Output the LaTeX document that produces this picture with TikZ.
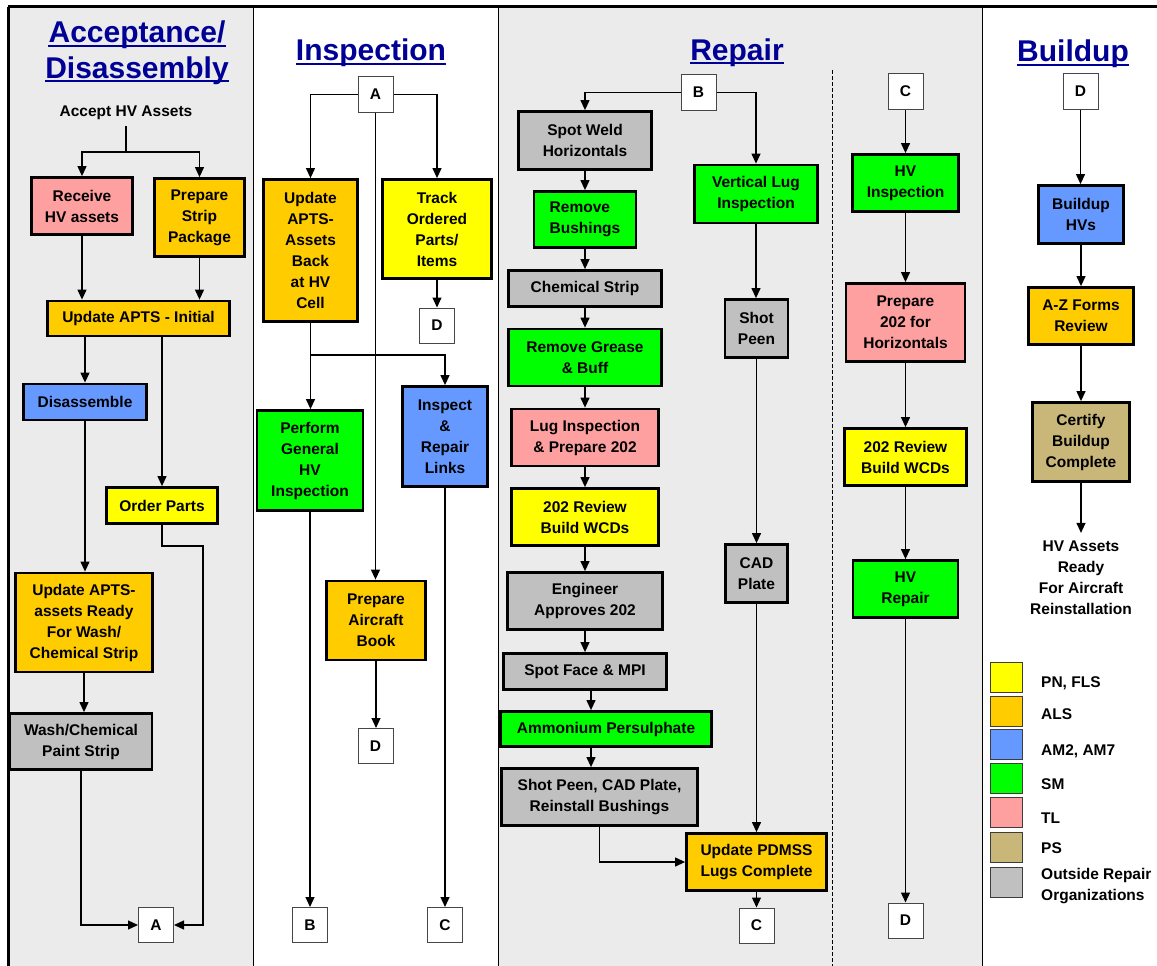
\documentclass[tikz,border=0pt]{standalone}
\usepackage{fontspec}
\setmainfont{Liberation Sans}
\usetikzlibrary{arrows.meta}
\definecolor{bgGrey}{RGB}{235,235,235}
\definecolor{cPink}{RGB}{255,160,160}
\definecolor{cOrange}{RGB}{255,204,0}
\definecolor{cYellow}{RGB}{255,255,0}
\definecolor{cBlue}{RGB}{102,153,255}
\definecolor{cGreen}{RGB}{0,255,0}
\definecolor{cTan}{RGB}{201,183,122}
\definecolor{cGrey}{RGB}{192,192,192}
\definecolor{titleBlue}{RGB}{0,0,150}
\definecolor{letterEdge}{RGB}{70,70,70}
\definecolor{legEdge}{RGB}{60,60,60}
\newcommand{\bodyfont}{\fontsize{15.5}{21}\selectfont\bfseries}
\newcommand{\titlefont}{\fontsize{30}{36}\selectfont\bfseries}
\begin{document}
\begin{tikzpicture}[x=1pt,y=-1pt,
  proc/.style={draw=black, line width=2.8pt, inner sep=0pt, align=center, font=\bodyfont, text=black},
  lbox/.style={draw=letterEdge, line width=1pt, fill=white, minimum width=35pt, minimum height=35pt, inner sep=0pt, font=\bodyfont},
  arr/.style={line width=1.2pt, -{Triangle[length=10pt,width=9pt]}},
  ln/.style={line width=1.2pt},
  ttl/.style={font=\titlefont, text=titleBlue, inner sep=0pt, anchor=base},
  ul/.style={line width=2.3pt, draw=titleBlue},
  plain/.style={font=\bodyfont, align=center, inner sep=0pt},
  leg/.style={draw=legEdge, line width=1.2pt, minimum width=32pt, minimum height=30pt, inner sep=0pt},
  legt/.style={font=\bodyfont, anchor=west, align=left, inner sep=0pt}
]
\useasboundingbox (0,0) rectangle (1157,966);
% backgrounds
\fill[white] (0,0) rectangle (1157,966);
\fill[bgGrey] (8,7) rectangle (253,966);
\fill[bgGrey] (498,7) rectangle (982,966);
\draw[line width=1pt] (253,7) -- (253,966);
\draw[line width=1pt] (498,7) -- (498,966);
\draw[line width=1pt] (982,7) -- (982,966);
\draw[line width=0.8pt, dash pattern=on 4pt off 2pt] (832,70) -- (832,966);
\draw[line width=3pt] (8,7) -- (1157,7);
\draw[line width=3pt] (8,7) -- (8,966);

% titles
\node[ttl] (t1a) at (137,43) {Acceptance/};
\node[ttl] (t1b) at (137,78) {Disassembly};
\node[ttl] (t2) at (371,61) {Inspection};
\node[ttl] (t3) at (737,60) {Repair};
\node[ttl] (t4) at (1073,62) {Buildup};
\foreach \t in {t1a,t1b,t2,t3,t4}
  \draw[ul] ([yshift=-3pt]\t.base west) -- ([yshift=-3pt]\t.base east);

% column 1
\node[plain] (acc) at (126,113) {Accept HV Assets};
\node[proc, fill=cPink, minimum width=101pt, minimum height=57pt] (rcv) at (82,206) {Receive\\HV assets};
\node[proc, fill=cOrange, minimum width=90pt, minimum height=78pt] (psp) at (199.5,217.5) {Prepare\\Strip\\Package};
\node[proc, fill=cOrange, minimum width=182pt, minimum height=35pt] (upi) at (138.5,318.5) {Update APTS - Initial};
\node[proc, fill=cBlue, minimum width=123pt, minimum height=36pt] (dis) at (85,402) {Disassemble};
\node[proc, fill=cYellow, minimum width=111pt, minimum height=36pt] (ord) at (162,505.5) {Order Parts};
\node[proc, fill=cOrange, minimum width=137pt, minimum height=99pt] (upw) at (84,622.5) {Update APTS-\\assets Ready\\For Wash/\\Chemical Strip};
\node[proc, fill=cGrey, minimum width=142pt, minimum height=56pt] (wsh) at (81,741.5) {Wash/Chemical\\Paint Strip};
\node[lbox] (A1) at (156,925) {A};

% column 2
\node[lbox] (A2) at (375.5,94.5) {A};
\node[proc, fill=cOrange, minimum width=94pt, minimum height=142pt] (uab) at (310.5,250.5) {Update\\APTS-\\Assets\\Back\\at HV\\Cell};
\node[proc, fill=cYellow, minimum width=109pt, minimum height=99pt] (trk) at (437,229) {Track\\Ordered\\Parts/\\Items};
\node[lbox] (D2a) at (437,325.5) {D};
\node[proc, fill=cGreen, minimum width=106pt, minimum height=100pt] (pgh) at (310,460.5) {Perform\\General\\HV\\Inspection};
\node[proc, fill=cBlue, minimum width=85pt, minimum height=100pt] (irl) at (445,436.5) {Inspect\\\&\\Repair\\Links};
\node[proc, fill=cOrange, minimum width=99pt, minimum height=79pt] (pab) at (376,620.5) {Prepare\\Aircraft\\Book};
\node[lbox] (D2b) at (375.5,746) {D};
\node[lbox] (B2) at (310,925) {B};
\node[lbox] (C2) at (445,925) {C};

% column 3
\node[lbox] (B3) at (698.5,92.5) {B};
\node[proc, fill=cGrey, minimum width=133pt, minimum height=58pt] (swh) at (585,140.5) {Spot Weld\\Horizontals};
\node[proc, fill=cGreen, minimum width=102pt, minimum height=56pt, align=left] (rmb) at (585,219.5) {Remove\\Bushings};
\node[proc, fill=cGrey, minimum width=153pt, minimum height=36pt] (chs) at (585,288.5) {Chemical Strip};
\node[proc, fill=cGreen, minimum width=153pt, minimum height=57pt] (rgb) at (585,357.5) {Remove Grease\\\& Buff};
\node[proc, fill=cPink, minimum width=147pt, minimum height=57pt] (lip) at (585,437.5) {Lug Inspection\\\& Prepare 202};
\node[proc, fill=cYellow, minimum width=147pt, minimum height=57pt] (rv1) at (585,517) {202 Review\\Build WCDs};
\node[proc, fill=cGrey, minimum width=155pt, minimum height=57pt] (eng) at (585,601) {Engineer\\Approves 202};
\node[proc, fill=cGrey, minimum width=163pt, minimum height=36pt] (sfm) at (585,671.5) {Spot Face \& MPI};
\node[proc, fill=cGreen, minimum width=211pt, minimum height=35pt] (amm) at (606,729) {Ammonium Persulphate};
\node[proc, fill=cGrey, minimum width=196pt, minimum height=57pt] (spc) at (599.5,797) {Shot Peen, CAD Plate,\\Reinstall Bushings};
\node[proc, fill=cGreen, minimum width=123pt, minimum height=58pt] (vli) at (756,194) {Vertical Lug\\Inspection};
\node[proc, fill=cGrey, minimum width=63pt, minimum height=58pt] (shp) at (756.5,328.5) {Shot\\Peen};
\node[proc, fill=cGrey, minimum width=62pt, minimum height=58pt] (cad) at (756.5,573.5) {CAD\\Plate};
\node[proc, fill=cOrange, minimum width=140pt, minimum height=57pt] (upd) at (756.5,862) {Update PDMSS\\Lugs Complete};
\node[lbox] (C3) at (756.5,925.5) {C};

% sub-column C
\node[lbox] (C4) at (905.5,91.5) {C};
\node[proc, fill=cGreen, minimum width=106pt, minimum height=57pt] (hvi) at (905.5,183) {HV\\Inspection};
\node[proc, fill=cPink, minimum width=119pt, minimum height=78pt] (p2h) at (905.5,322.5) {Prepare\\202 for\\Horizontals};
\node[proc, fill=cYellow, minimum width=122pt, minimum height=57pt] (rv2) at (905.5,457) {202 Review\\Build WCDs};
\node[proc, fill=cGreen, minimum width=105pt, minimum height=57pt] (hvr) at (905.5,589) {HV\\Repair};
\node[lbox] (D4) at (905.5,920.5) {D};

% column 4
\node[lbox] (D5) at (1080.5,91.5) {D};
\node[proc, fill=cBlue, minimum width=85pt, minimum height=58pt] (bhv) at (1081,214.5) {Buildup\\HVs};
\node[proc, fill=cOrange, minimum width=105pt, minimum height=57pt] (azf) at (1081,316) {A-Z Forms\\Review};
\node[proc, fill=cTan, minimum width=97pt, minimum height=79pt] (cbc) at (1081,442) {Certify\\Buildup\\Complete};
\node[plain, inner ysep=8pt] (rdy) at (1081,578) {HV Assets\\Ready\\For Aircraft\\Reinstallation};

% legend
\node[leg, fill=cYellow] (lg1) at (1006.5,677.5) {};
\node[leg, fill=cOrange] (lg2) at (1006.5,711.5) {};
\node[leg, fill=cBlue] (lg3) at (1006.5,744.5) {};
\node[leg, fill=cGreen] (lg4) at (1006.5,778.5) {};
\node[leg, fill=cPink] (lg5) at (1006.5,812.5) {};
\node[leg, fill=cTan] (lg6) at (1006.5,847.5) {};
\node[leg, fill=cGrey] (lg7) at (1006.5,882.5) {};
\node[legt] (lt1) at (1041,683) {PN, FLS};
\node[legt] (lt2) at (1041,714) {ALS};
\node[legt] (lt3) at (1041,751) {AM2, AM7};
\node[legt] (lt4) at (1041,784) {SM};
\node[legt] (lt5) at (1041,818) {TL};
\node[legt] (lt6) at (1041,848) {PS};
\node[legt] (lt7) at (1041,886) {Outside Repair\\Organizations};

% connectors column 1
\coordinate (j1) at (126,152);
\draw[ln] (acc.south) ++(0,6) -- (j1);
\draw[arr] (j1) -| (rcv.north);
\draw[arr] (j1) -| (psp.north);
\draw[arr] (rcv.south) -- (rcv.south |- upi.north);
\draw[arr] (psp.south) -- (psp.south |- upi.north);
\draw[arr] (upi.south -| dis.north) -- (dis.north);
\draw[arr] (upi.south -| ord.north) -- (ord.north);
\draw[arr] (dis.south) -- (dis.south |- upw.north);
\draw[arr] (upw.south) -- (upw.south |- wsh.north);
\draw[arr] (wsh.south) |- (A1.west);
\coordinate (k1) at (203,546);
\draw[arr] (ord.south) |- (k1) |- (A1.east);

% connectors column 2
\draw[arr] (A2.west) -| (uab.north);
\draw[arr] (A2.east) -| (trk.north);
\draw[arr] (A2.south) -- (A2.south |- pab.north);
\draw[arr] (trk.south) -- (D2a.north);
\coordinate (j2) at (310.5,355);
\draw[ln] (uab.south) -- (j2);
\draw[arr] (j2) -- (j2 |- pgh.north);
\draw[arr] (j2) -| (irl.north);
\draw[arr] (pgh.south) -- (B2.north);
\draw[arr] (irl.south) -- (C2.north);
\draw[arr] (pab.south) -- (pab.south |- D2b.north);

% connectors column 3
\draw[arr] (B3.west) -| (swh.north);
\draw[arr] (B3.east) -| (vli.north);
\draw[arr] (swh.south) -- (swh.south |- rmb.north);
\draw[arr] (rmb.south) -- (rmb.south |- chs.north);
\draw[arr] (chs.south) -- (rgb.north);
\draw[arr] (rgb.south) -- (lip.north);
\draw[arr] (lip.south) -- (rv1.north);
\draw[arr] (rv1.south) -- (eng.north);
\draw[arr] (eng.south) -- (sfm.north);
\draw[arr] ([xshift=6pt]sfm.south) -- ([xshift=6pt]sfm.south |- amm.north);
\draw[arr] ([xshift=-15pt]amm.south) -- ([xshift=-15pt]amm.south |- spc.north);
\draw[arr] (spc.south) |- (upd.west);
\draw[arr] (vli.south) -- (vli.south |- shp.north);
\draw[arr] (shp.south) -- (cad.north);
\draw[arr] (cad.south) -- (upd.north);
\draw[arr] (upd.south) -- (C3.north);

% connectors sub-column C
\draw[arr] (C4.south) -- (hvi.north);
\draw[arr] (hvi.south) -- (p2h.north);
\draw[arr] (p2h.south) -- (rv2.north);
\draw[arr] (rv2.south) -- (hvr.north);
\draw[arr] (hvr.south) -- (D4.north);

% connectors column 4
\draw[arr] (D5.south) -- (D5.south |- bhv.north);
\draw[arr] (bhv.south) -- (azf.north);
\draw[arr] (azf.south) -- (cbc.north);
\draw[arr] (cbc.south) -- (rdy.north);
\end{tikzpicture}
\end{document}
